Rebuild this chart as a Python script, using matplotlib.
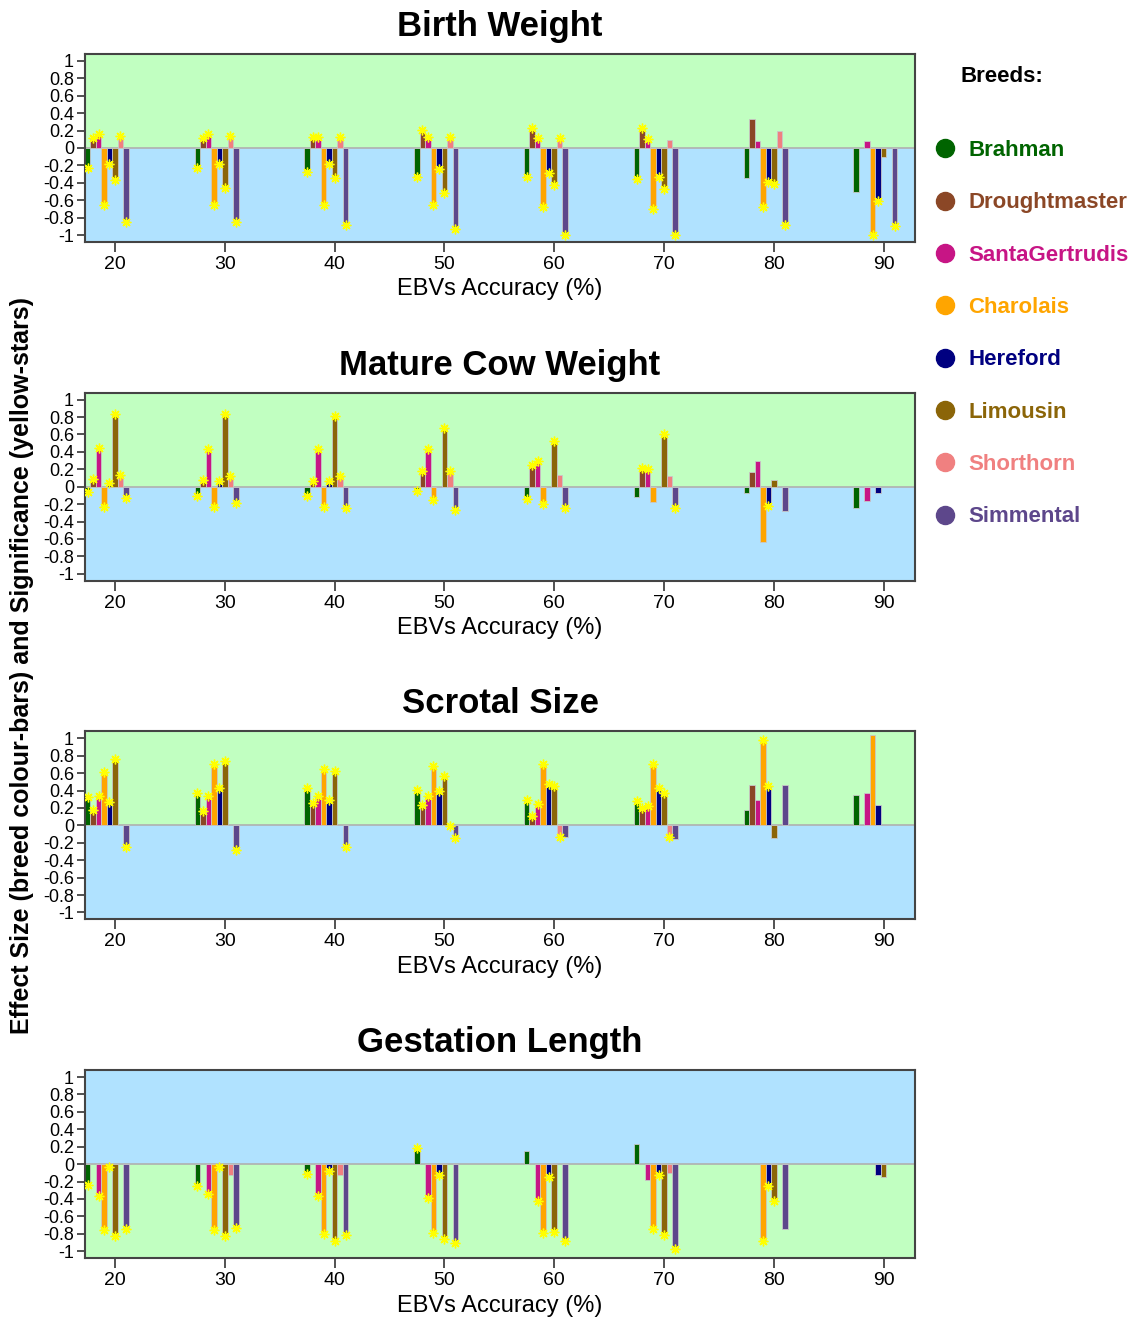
import numpy as np
import matplotlib
matplotlib.use("Agg")
import matplotlib.pyplot as plt
from matplotlib.lines import Line2D

plt.rcParams['font.family'] = ['Liberation Sans', 'DejaVu Sans']

nan = np.nan
accuracy = [20, 30, 40, 50, 60, 70, 80, 90]
breeds = ["Brahman", "Droughtmaster", "SantaGertrudis", "Charolais",
          "Hereford", "Limousin", "Shorthorn", "Simmental"]
breed_colors = ["#006400", "#8B4726", "#C71585", "#FFA500",
                "#000080", "#8B6508", "#F08080", "#5D478B"]
titles = ["Birth Weight", "Mature Cow Weight", "Scrotal Size", "Gestation Length"]

# rows = breeds, columns = accuracy levels
birth_weight = [
    [-0.23, -0.23, -0.28, -0.33, -0.33, -0.36, -0.35, -0.51],
    [0.12, 0.11, 0.13, 0.21, 0.23, 0.23, 0.33, nan],
    [0.16, 0.16, 0.13, 0.13, 0.11, 0.10, 0.08, 0.08],
    [-0.66, -0.66, -0.65, -0.65, -0.68, -0.70, -0.68, -1.00],
    [-0.18, -0.18, -0.18, -0.24, -0.29, -0.33, -0.39, -0.61],
    [-0.37, -0.46, -0.35, -0.52, -0.43, -0.47, -0.41, -0.10],
    [0.14, 0.14, 0.13, 0.13, 0.12, 0.09, 0.19, nan],
    [-0.85, -0.85, -0.89, -0.93, -1.00, -1.00, -0.88, -0.90],
]
birth_weight_sig = [
    [1, 1, 1, 1, 1, 1, 0, 0],
    [1, 1, 1, 1, 1, 1, 0, 0],
    [1, 1, 1, 1, 1, 1, 0, 0],
    [1, 1, 1, 1, 1, 1, 1, 1],
    [1, 1, 1, 1, 1, 1, 1, 1],
    [1, 1, 1, 1, 1, 1, 1, 0],
    [1, 1, 1, 1, 1, 0, 0, 0],
    [1, 1, 1, 1, 1, 1, 1, 1],
]

cow_weight = [
    [-0.06, -0.11, -0.11, -0.05, -0.14, -0.12, -0.07, -0.24],
    [0.09, 0.08, 0.07, 0.18, 0.25, 0.22, 0.17, nan],
    [0.44, 0.43, 0.43, 0.43, 0.30, 0.20, 0.30, -0.17],
    [-0.23, -0.23, -0.23, -0.15, -0.20, -0.18, -0.64, nan],
    [0.04, 0.06, 0.06, nan, nan, nan, -0.22, -0.07],
    [0.83, 0.83, 0.81, 0.68, 0.53, 0.60, 0.08, nan],
    [0.13, 0.12, 0.12, 0.18, 0.13, 0.12, nan, nan],
    [-0.13, -0.19, -0.25, -0.27, -0.25, -0.25, -0.28, nan],
]
cow_weight_sig = [
    [1, 1, 1, 1, 1, 0, 0, 0],
    [1, 1, 1, 1, 1, 1, 0, 0],
    [1, 1, 1, 1, 1, 1, 0, 0],
    [1, 1, 1, 1, 1, 0, 0, 0],
    [1, 1, 1, 0, 0, 0, 1, 0],
    [1, 1, 1, 1, 1, 1, 0, 0],
    [1, 1, 1, 1, 0, 0, 0, 0],
    [1, 1, 1, 1, 1, 1, 0, 0],
]

scrotal = [
    [0.33, 0.37, 0.43, 0.41, 0.29, 0.28, 0.18, 0.35],
    [0.18, 0.16, 0.26, 0.23, 0.11, 0.20, 0.46, nan],
    [0.34, 0.34, 0.34, 0.34, 0.25, 0.22, 0.29, 0.37],
    [0.61, 0.71, 0.65, 0.68, 0.71, 0.70, 0.98, 1.04],
    [0.27, 0.43, 0.29, 0.39, 0.47, 0.43, 0.45, 0.23],
    [0.76, 0.74, 0.62, 0.57, 0.45, 0.37, -0.14, nan],
    [nan, nan, nan, -0.01, -0.13, -0.13, nan, nan],
    [-0.25, -0.28, -0.25, -0.14, -0.13, -0.16, 0.46, nan],
]
scrotal_sig = [
    [1, 1, 1, 1, 1, 1, 0, 0],
    [1, 1, 1, 1, 1, 1, 0, 0],
    [1, 1, 1, 1, 1, 1, 0, 0],
    [1, 1, 1, 1, 1, 1, 1, 0],
    [1, 1, 1, 1, 1, 1, 1, 0],
    [1, 1, 1, 1, 1, 1, 0, 0],
    [0, 0, 0, 1, 1, 1, 0, 0],
    [1, 1, 1, 1, 0, 0, 0, 0],
]

gestation = [
    [-0.24, -0.25, -0.11, 0.18, 0.15, 0.23, nan, nan],
    [nan, nan, nan, nan, nan, nan, nan, nan],
    [-0.37, -0.34, -0.37, -0.39, -0.42, -0.18, nan, nan],
    [-0.76, -0.76, -0.80, -0.79, -0.79, -0.74, -0.88, nan],
    [-0.03, -0.03, -0.08, -0.12, -0.15, -0.13, -0.25, -0.13],
    [-0.83, -0.83, -0.88, -0.86, -0.78, -0.81, -0.42, -0.15],
    [nan, -0.12, -0.12, nan, nan, -0.10, nan, nan],
    [-0.74, -0.73, -0.81, -0.91, -0.88, -0.97, -0.75, nan],
]
gestation_sig = [
    [1, 1, 1, 1, 0, 0, 0, 0],
    [0, 0, 0, 0, 0, 0, 0, 0],
    [1, 1, 1, 1, 1, 0, 0, 0],
    [1, 1, 1, 1, 1, 1, 1, 0],
    [1, 1, 1, 1, 1, 1, 1, 0],
    [1, 1, 1, 1, 1, 1, 1, 0],
    [0, 0, 0, 0, 0, 0, 0, 0],
    [1, 1, 1, 1, 1, 1, 0, 0],
]

panels = [
    (birth_weight, birth_weight_sig, False),
    (cow_weight, cow_weight_sig, False),
    (scrotal, scrotal_sig, False),
    (gestation, gestation_sig, True),
]

GREEN = "#C1FFC1"
BLUE = "#B0E2FF"
W, H = 1135, 1322
fig = plt.figure(figsize=(W / 100, H / 100), dpi=100)

yticks = np.round(np.arange(-1, 1.01, 0.2), 1)
ylabels = [("%g" % v) if v != 0 else "0" for v in yticks]
acc = np.array(accuracy, dtype=float)
bw = 0.5

for p, (vals, sig, flipped) in enumerate(panels):
    top = 54 + 338.7 * p
    ax = fig.add_axes([85 / W, 1 - (top + 188) / H, 830 / W, 188 / H])
    ylo, yhi = -1.08, 1.08
    ax.axhspan(0, yhi, color=BLUE if flipped else GREEN, zorder=0, lw=0)
    ax.axhspan(ylo, 0, color=GREEN if flipped else BLUE, zorder=0, lw=0)
    ax.axhline(0, color="#b0b0b0", lw=1.2, zorder=1)

    vals = np.array(vals, dtype=float)
    sig = np.array(sig, dtype=bool)
    for i in range(len(breeds)):
        x = acc + (i - 5) * bw
        ok = ~np.isnan(vals[i])
        ax.bar(x[ok], vals[i][ok], width=bw, color=breed_colors[i],
               edgecolor="#c8c8c8", linewidth=0.6, zorder=2)
    for i in range(len(breeds)):
        x = acc + (i - 5) * bw
        m = sig[i] & ~np.isnan(vals[i])
        ax.plot(x[m], vals[i][m], ls="none", marker=(8, 2, 0), ms=7,
                mew=1.0, color="#FFFF00", zorder=3)

    ax.set_xlim(17.27, 92.86)
    ax.set_ylim(ylo, yhi)
    ax.set_xticks(accuracy)
    ax.set_xticklabels([str(a) for a in accuracy], fontsize=14)
    ax.set_yticks(yticks)
    ax.set_yticklabels(ylabels, fontsize=13)
    ax.tick_params(axis="x", length=7, width=1.2, pad=3, color="#333333")
    ax.tick_params(axis="y", length=6, width=1.2, pad=2, color="#333333")
    for s in ax.spines.values():
        s.set_color("#444444")
        s.set_linewidth(1.5)
    ax.set_xlabel("EBVs Accuracy (%)", fontsize=17, labelpad=4)
    ax.set_title(titles[p], fontsize=25, fontweight="bold", pad=13)

fig.text(22 / W, 1 - 665 / H,
         "Effect Size (breed colour-bars) and Significance (yellow-stars)",
         rotation=90, ha="center", va="center", fontsize=18, fontweight="bold")

fig.text(1002 / W, 1 - 76 / H, "Breeds:", ha="center", va="center",
         fontsize=16, fontweight="bold")
handles = [Line2D([], [], ls="none", marker="o", ms=13, color=c) for c in breed_colors]
leg = fig.legend(handles, breeds, loc="upper left", bbox_to_anchor=(934 / W, 1 - 140 / H),
                 frameon=False, prop={"size": 16, "weight": "bold"},
                 labelspacing=1.41, handlelength=1.0, handletextpad=0.55,
                 borderpad=0, borderaxespad=0, labelcolor=breed_colors)

fig.savefig("out.png", dpi=100)
